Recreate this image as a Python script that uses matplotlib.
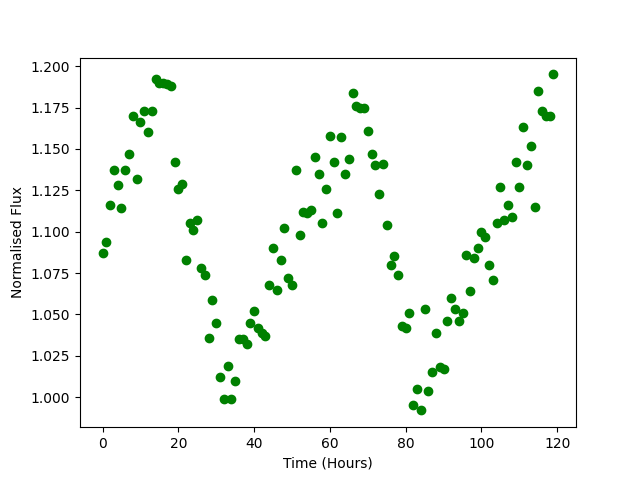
import numpy as np
import matplotlib
matplotlib.use("Agg")
import matplotlib.pyplot as plt

time_hours = np.arange(120)

flux = [
    1.087, 1.094, 1.116, 1.137, 1.128, 1.114, 1.137, 1.147, 1.170, 1.132,
    1.166, 1.173, 1.160, 1.173, 1.192, 1.190, 1.190, 1.189, 1.188, 1.142,
    1.126, 1.129, 1.083, 1.105, 1.101, 1.107, 1.078, 1.074, 1.036, 1.059,
    1.045, 1.012, 0.999, 1.019, 0.999, 1.010, 1.035, 1.035, 1.032, 1.045,
    1.052, 1.042, 1.039, 1.037, 1.068, 1.090, 1.065, 1.083, 1.102, 1.072,
    1.068, 1.137, 1.098, 1.112, 1.111, 1.113, 1.145, 1.135, 1.105, 1.126,
    1.158, 1.142, 1.111, 1.157, 1.135, 1.144, 1.184, 1.176, 1.175, 1.175,
    1.161, 1.147, 1.140, 1.123, 1.141, 1.104, 1.080, 1.085, 1.074, 1.043,
    1.042, 1.051, 0.995, 1.005, 0.992, 1.053, 1.004, 1.015, 1.039, 1.018,
    1.017, 1.046, 1.060, 1.053, 1.046, 1.051, 1.086, 1.064, 1.084, 1.090,
    1.100, 1.097, 1.080, 1.071, 1.105, 1.127, 1.107, 1.116, 1.109, 1.142,
    1.127, 1.163, 1.140, 1.152, 1.115, 1.185, 1.173, 1.170, 1.170, 1.195,
]

fig = plt.figure(figsize=(6.4, 4.8), dpi=100)
plt.plot(time_hours, flux, 'o', color='green')
plt.xlabel('Time (Hours)')
plt.ylabel('Normalised Flux')
plt.savefig('out.png')
